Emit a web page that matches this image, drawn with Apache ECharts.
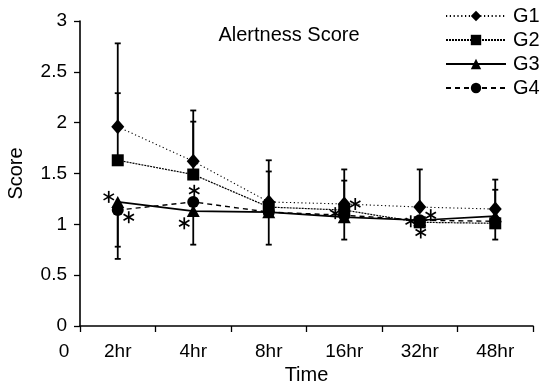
<!DOCTYPE html>
<html>
<head>
<meta charset="utf-8">
<script src="https://cdn.jsdelivr.net/npm/echarts@6/dist/echarts.min.js"></script>
<style>html,body{margin:0;padding:0;background:#fff}#c{width:545px;height:384px}</style>
</head>
<body>
<div id="c"></div>
<script>
const categories = ['2hr', '4hr', '8hr', '16hr', '32hr', '48hr'];
const seriesNames = ['G1', 'G2', 'G3', 'G4'];
const g1 = [1.96, 1.62, 1.22, 1.20, 1.17, 1.15];
const g2 = [1.63, 1.49, 1.17, 1.14, 1.02, 1.01];
const g3 = [1.22, 1.13, 1.12, 1.07, 1.04, 1.08];
const g4 = [1.14, 1.22, 1.12, 1.09, 1.04, 1.03];
// one-sided error bar ends (null = none drawn)
const g1ErrTop = [2.78, 2.12, 1.63, 1.54, 1.54, 1.44];
const g2ErrTop = [2.29, 2.01, 1.52, 1.43, null, 1.34];
const g3ErrBottom = [0.78, 0.80, null, 0.85, null, null];
const g4ErrBottom = [0.66, null, 0.80, null, null, 0.85];
// significance asterisks: category index, value, side
const starCat = [0, 0, 1, 1, 3, 3, 4, 4, 4];
const starVal = [1.27, 1.07, 1.33, 1.01, 1.20, 1.11, 1.03, 1.09, 0.92];
const starSide = ['L', 'R', 'C', 'L', 'R', 'L', 'L', 'R', 'C'];
const yTicks = [0, 0.5, 1, 1.5, 2, 2.5, 3];

const FONT = '"Liberation Sans", Arial, Helvetica, sans-serif';
const FS = 19;
const chart = echarts.init(document.getElementById('c'), null, {renderer: 'canvas'});

const errData = [];
function addErr(vals, ends) {
  ends.forEach((e, i) => { if (e !== null) errData.push([i, vals[i], e]); });
}
addErr(g1, g1ErrTop); addErr(g2, g2ErrTop); addErr(g3, g3ErrBottom); addErr(g4, g4ErrBottom);

const starData = starCat.map((c, i) => [c, starVal[i], starSide[i]]);

function lineSeries(name, data, symbol, size, lineType, width) {
  return {
    name, type: 'line', data, symbol, symbolSize: size, z: 3,
    itemStyle: {color: '#000'},
    lineStyle: {color: '#000', width, type: lineType},
    emphasis: {disabled: true}, animation: false
  };
}

chart.setOption({
  animation: false,
  backgroundColor: '#fff',
  textStyle: {fontFamily: FONT},
  grid: {left: 80, right: 12, top: 21, bottom: 58, containLabel: false, outerBoundsMode: 'none'},
  legend: {
    orient: 'vertical', left: 440, top: 1, itemWidth: 60, itemHeight: 13, itemGap: 4,
    textStyle: {fontSize: 20, color: '#000', fontFamily: FONT, padding: [0, 0, 0, 2]},
    data: seriesNames
  },
  graphic: [
    {type: 'text', x: 289, y: 35, style: {text: 'Alertness Score', textAlign: 'center', textVerticalAlign: 'middle', font: '20px ' + FONT, fill: '#000'}},
    {type: 'text', x: 64, y: 352, style: {text: '0', textAlign: 'center', textVerticalAlign: 'middle', font: FS + 'px ' + FONT, fill: '#000'}}
  ],
  xAxis: {
    type: 'category', data: categories, boundaryGap: true,
    name: 'Time', nameLocation: 'middle', nameGap: 33,
    nameTextStyle: {fontSize: 20, color: '#000', fontFamily: FONT},
    axisLine: {lineStyle: {color: '#000', width: 1.6}},
    axisTick: {show: true, length: 6, inside: false, lineStyle: {color: '#000', width: 1.3}},
    axisLabel: {fontSize: FS, color: '#000', margin: 16, fontFamily: FONT},
    splitLine: {show: false}
  },
  yAxis: {
    type: 'value', min: yTicks[0], max: yTicks[yTicks.length - 1], interval: 0.5,
    name: 'Score', nameLocation: 'middle', nameGap: 54, nameRotate: 90,
    nameTextStyle: {fontSize: 20, color: '#000', fontFamily: FONT},
    axisLine: {show: true, lineStyle: {color: '#000', width: 1.6}},
    axisTick: {show: true, length: 6, lineStyle: {color: '#000', width: 1.3}},
    axisLabel: {fontSize: FS, color: '#000', margin: 13, fontFamily: FONT},
    splitLine: {show: false}
  },
  series: [
    lineSeries('G1', g1, 'diamond', [13, 15], [1.2, 2.6], 1.1),
    lineSeries('G2', g2, 'rect', 12, [2, 1], 1.2),
    lineSeries('G3', g3, 'triangle', [13, 12], 'solid', 1.7),
    lineSeries('G4', g4, 'circle', 12, [5, 4], 1.4),
    {
      type: 'custom', name: 'err', data: errData, z: 2, silent: true,
      renderItem: function (params, api) {
        const p0 = api.coord([api.value(0), api.value(1)]);
        const p1 = api.coord([api.value(0), api.value(2)]);
        const st = {stroke: '#000', lineWidth: 1.8};
        return {type: 'group', children: [
          {type: 'line', shape: {x1: p0[0], y1: p0[1], x2: p1[0], y2: p1[1]}, style: st},
          {type: 'line', shape: {x1: p1[0] - 3, y1: p1[1], x2: p1[0] + 3, y2: p1[1]}, style: st}
        ]};
      },
      animation: false
    },
    {
      type: 'custom', name: 'stars', data: starData, z: 4, silent: true,
      encode: {x: 0, y: 1},
      renderItem: function (params, api) {
        const side = starData[params.dataIndex][2];
        const dx = side === 'L' ? -9 : side === 'R' ? 11 : 1;
        const p = api.coord([api.value(0), api.value(1)]);
        const cx = p[0] + dx, cy = p[1], r = 6;
        const st = {stroke: '#000', lineWidth: 1.7};
        const ch = [];
        [90, 30, 150].forEach(a => {
          const t = a * Math.PI / 180;
          ch.push({type: 'line', shape: {x1: cx - r * Math.cos(t), y1: cy - r * Math.sin(t), x2: cx + r * Math.cos(t), y2: cy + r * Math.sin(t)}, style: st});
        });
        return {type: 'group', children: ch};
      },
      animation: false
    }
  ]
});
</script>
</body>
</html>
